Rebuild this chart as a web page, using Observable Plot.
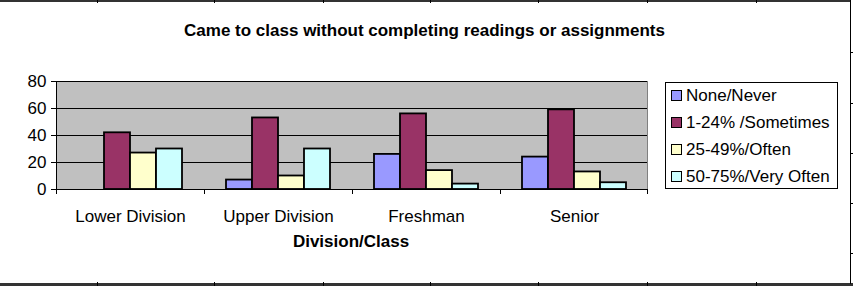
<!DOCTYPE html>
<html>
<head>
<meta charset="utf-8">
<script src="https://cdn.jsdelivr.net/npm/d3@7"></script>
<script src="https://cdn.jsdelivr.net/npm/@observablehq/plot@0.6"></script>
<style>
  html, body { margin: 0; padding: 0; background: #fff; }
  #wrap { position: relative; width: 853px; height: 286px; overflow: hidden; font-family: "Liberation Sans", Arial, sans-serif; color: #000; }
  #chart { position: absolute; left: 0; top: 0; }
  .title { position: absolute; left: 0; width: 849px; top: 21px; text-align: center; font-weight: bold; font-size: 17px; line-height: 20px; }
  .xlabel { position: absolute; left: 251px; width: 200px; top: 232px; text-align: center; font-weight: bold; font-size: 17px; line-height: 20px; }
  .legend { position: absolute; left: 665px; top: 82px; width: 173px; height: 107px; border: 1px solid #000; box-sizing: border-box; }
  .row { position: absolute; left: 5px; height: 20px; line-height: 20px; font-size: 17px; white-space: nowrap; }
  .sw { display: inline-block; width: 9px; height: 9px; border: 1px solid #000; margin-right: 4px; vertical-align: 0px; }
  .line { position: absolute; background: #333; }
</style>
</head>
<body>
<div id="wrap">
  <div id="chart"></div>
  <div class="title" id="title"></div>
  <div class="xlabel" id="xlabel"></div>
  <div class="legend" id="legend"></div>
</div>
<script>
const titleText = "Came to class without completing readings or assignments";
const xAxisLabel = "Division/Class";
const categories = ["Lower Division", "Upper Division", "Freshman", "Senior"];
const seriesNames = ["None/Never", "1-24% /Sometimes", "25-49%/Often", "50-75%/Very Often"];
const noneNever = [0, 7, 26, 24];
const sometimes = [42, 53, 56, 59];
const often = [27, 10, 14, 13];
const veryOften = [30, 30, 4, 5];
const yTicks = [0, 20, 40, 60, 80];
const seriesColors = ["#9999FF", "#993366", "#FFFFCC", "#CCFFFF"];

const seriesValues = [noneNever, sometimes, often, veryOften];
const data = [];
categories.forEach((c, i) => {
  seriesNames.forEach((s, j) => {
    data.push({category: c, series: s, value: seriesValues[j][i]});
  });
});

const plot = Plot.plot({
  width: 853,
  height: 286,
  marginLeft: 55,
  marginRight: 205,
  marginTop: 81,
  marginBottom: 97,
  style: {fontFamily: "'Liberation Sans', Arial, sans-serif", fontSize: "17px", color: "#000", background: "transparent", overflow: "visible"},
  fx: {domain: categories, padding: 0, label: null, tickSize: 0, tickPadding: 20, axis: "bottom"},
  x: {domain: seriesNames, axis: null, paddingInner: 0, paddingOuter: 0.745},
  y: {domain: [0, 80], ticks: yTicks, tickSize: 5, tickPadding: 5, label: null},
  color: {domain: seriesNames, range: seriesColors},
  marks: [
    Plot.gridY(yTicks, {stroke: "#000", strokeOpacity: 1, strokeWidth: 1}),
    Plot.barY(data.filter(d => d.value > 0), {fx: "category", x: "series", y: "value", fill: "series", stroke: "#000", strokeWidth: 1.8}),
    Plot.ruleY([0], {stroke: "#000", strokeWidth: 1})
  ]
});
document.getElementById("chart").appendChild(plot);

// decorations derived from the library's scales
const svg = d3.select(plot);
const fx = plot.scale("fx");
const ys = plot.scale("y");
const y0 = ys.apply(0), yTop = ys.apply(80);
const left = fx.apply(categories[0]);
const right = fx.apply(categories[categories.length - 1]) + fx.bandwidth;
svg.insert("rect", ":first-child")
  .attr("x", left).attr("y", yTop).attr("width", right - left).attr("height", y0 - yTop)
  .attr("fill", "#c0c0c0");
const deco = svg.append("g");
deco.append("line").attr("x1", right - 0.5).attr("x2", right - 0.5).attr("y1", yTop).attr("y2", y0).attr("stroke", "#808080");
deco.append("line").attr("x1", left + 0.5).attr("x2", left + 0.5).attr("y1", yTop).attr("y2", y0 + 0.5).attr("stroke", "#000");
const bounds = categories.map(c => fx.apply(c)).concat([right]);
bounds.forEach((b, i) => {
  const xx = (i === bounds.length - 1) ? b - 0.5 : Math.round(b) + 0.5;
  deco.append("line").attr("x1", xx).attr("x2", xx).attr("y1", y0).attr("y2", y0 + 5).attr("stroke", "#000");
});

document.getElementById("title").textContent = titleText;
document.getElementById("xlabel").textContent = xAxisLabel;
const legend = document.getElementById("legend");
seriesNames.forEach((s, i) => {
  const row = document.createElement("div");
  row.className = "row";
  row.style.top = (3 + i * 27) + "px";
  const sw = document.createElement("span");
  sw.className = "sw";
  sw.style.background = seriesColors[i];
  row.appendChild(sw);
  row.appendChild(document.createTextNode(s));
  legend.appendChild(row);
});

// outer frame lines (sheet borders)
const wrap = document.getElementById("wrap");
function addLine(l, t, w, h, c) {
  const d = document.createElement("div");
  d.className = "line";
  d.style.left = l + "px"; d.style.top = t + "px"; d.style.width = w + "px"; d.style.height = h + "px";
  if (c) d.style.background = c;
  wrap.appendChild(d);
}
addLine(0, 0, 851, 2);
addLine(0, 283, 853, 3);
addLine(850, 0, 1, 284, "#000");
[97, 214, 323, 430, 538, 647, 756].forEach(x => { addLine(x, 0, 1, 3, "#000"); addLine(x, 282, 1, 4, "#000"); });
[52, 103, 153, 203, 253].forEach(y => addLine(850, y, 3, 1, "#000"));
</script>
</body>
</html>
